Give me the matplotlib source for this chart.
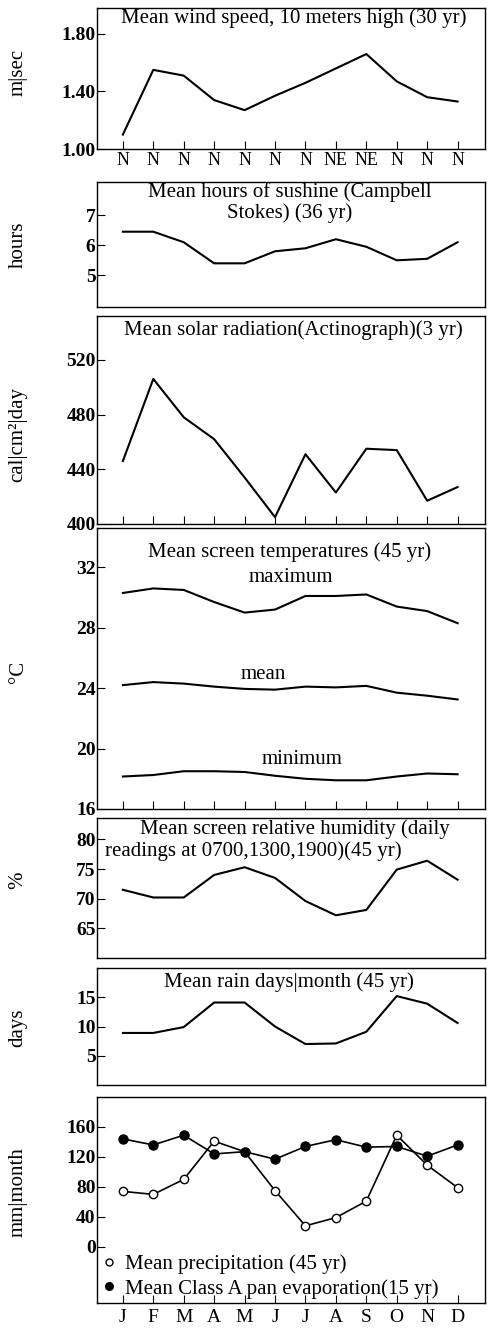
import numpy as np
import matplotlib
matplotlib.use("Agg")
import matplotlib.pyplot as plt
from matplotlib.lines import Line2D

plt.rcParams['font.family'] = ['Liberation Serif', 'DejaVu Serif']

W, H = 488, 1334

months = np.arange(1, 13)
month_labels = ["J", "F", "M", "A", "M", "J", "J", "A", "S", "O", "N", "D"]
wind_dirs = ["N", "N", "N", "N", "N", "N", "N", "NE", "NE", "N", "N", "N"]

wind = [1.10, 1.55, 1.51, 1.34, 1.27, 1.37, 1.46, 1.56, 1.66, 1.47, 1.36, 1.33]
sunshine = [6.45, 6.45, 6.1, 5.4, 5.4, 5.8, 5.9, 6.2, 5.95, 5.5, 5.55, 6.1]
radiation = [446, 506, 478, 462, 434, 405, 451, 423, 455, 454, 417, 427]
t_max = [30.3, 30.6, 30.5, 29.7, 29.0, 29.2, 30.1, 30.1, 30.2, 29.4, 29.1, 28.3]
t_mean = [24.2, 24.4, 24.3, 24.1, 23.95, 23.9, 24.1, 24.05, 24.15, 23.7, 23.5, 23.25]
t_min = [18.15, 18.25, 18.5, 18.5, 18.45, 18.2, 18.0, 17.9, 17.9, 18.15, 18.35, 18.3]
humidity = [71.5, 70.2, 70.2, 74.0, 75.3, 73.5, 69.6, 67.2, 68.1, 74.9, 76.4, 73.2]
rain_days = [8.9, 8.9, 9.9, 14.1, 14.1, 10.0, 7.0, 7.1, 9.1, 15.2, 13.9, 10.6]
precip = [74, 70, 90, 141, 127, 75, 28, 39, 61, 149, 109, 79]
evap = [144, 136, 149, 124, 127, 117, 134, 143, 133, 134, 121, 136]

fig = plt.figure(figsize=(W / 100, H / 100), dpi=100)

TS = 15      # title size
YS = 14      # y tick label size


def make_axes(top, bottom, left=97, right=485):
    ax = fig.add_axes([left / W, 1 - bottom / H, (right - left) / W, (bottom - top) / H])
    ax.set_xlim(0.15, 12.9)
    for s in ax.spines.values():
        s.set_linewidth(1.0)
    ax.tick_params(axis='y', direction='in', length=6, width=0.8, labelsize=YS, pad=1)
    ax.tick_params(axis='x', direction='in', length=6, width=0.8)
    return ax


def ftext(x, y, s, **kw):
    fig.text(x / W, 1 - y / H, s, **kw)


def ylab(y, s):
    ftext(18, y, s, rotation=90, ha='center', va='center', fontsize=15)


lw = 1.5

# wind speed
ax1 = make_axes(8, 149)
ax1.plot(months, wind, color='black', lw=lw)
ax1.set_ylim(1.0, 1.98)
ax1.set_yticks([1.0, 1.4, 1.8])
ax1.set_yticklabels(["1.00", "1.40", "1.80"], fontweight='bold')
ax1.set_xticks(months)
ax1.set_xticklabels(wind_dirs, fontsize=13)
ax1.tick_params(axis='x', pad=2)
ftext(294, 18, "Mean wind speed, 10 meters high (30 yr)", ha='center', va='center', fontsize=TS)
ylab(72, "m|sec")

# sunshine
ax2 = make_axes(182, 307)
ax2.plot(months, sunshine, color='black', lw=lw)
ax2.set_ylim(3.95, 8.1)
ax2.set_yticks([5, 6, 7])
ax2.set_yticklabels(["5", "6", "7"], fontweight='bold')
ax2.set_xticks([])
ftext(290, 192, "Mean hours of sushine (Campbell", ha='center', va='center', fontsize=TS)
ftext(290, 213, "Stokes) (36 yr)", ha='center', va='center', fontsize=TS)
ylab(245, "hours")

# solar radiation
ax3 = make_axes(316, 524)
ax3.plot(months, radiation, color='black', lw=lw)
ax3.set_ylim(400, 552)
ax3.set_yticks([400, 440, 480, 520])
ax3.set_yticklabels(["400", "440", "480", "520"], fontweight='bold')
ax3.set_xticks(months)
ax3.set_xticklabels([])
ftext(293, 330, "Mean solar radiation(Actinograph)(3 yr)", ha='center', va='center', fontsize=TS)
ylab(435, "cal|cm²|day")

# temperatures
ax4 = make_axes(528, 809)
for series in (t_max, t_mean, t_min):
    ax4.plot(months, series, color='black', lw=lw)
ax4.set_ylim(16, 34.6)
ax4.set_yticks([16, 20, 24, 28, 32])
ax4.set_yticklabels(["16", "20", "24", "28", "32"], fontweight='bold')
ax4.set_xticks(months)
ax4.set_xticklabels([])
ftext(290, 552, "Mean screen temperatures (45 yr)", ha='center', va='center', fontsize=TS)
ftext(291, 577, "maximum", ha='center', va='center', fontsize=TS)
ftext(263, 674, "mean", ha='center', va='center', fontsize=TS)
ftext(302, 760, "minimum", ha='center', va='center', fontsize=TS)
ylab(672, "°C")

# humidity
ax5 = make_axes(818, 958)
ax5.plot(months, humidity, color='black', lw=lw)
ax5.set_ylim(60, 83.6)
ax5.set_yticks([65, 70, 75, 80])
ax5.set_yticklabels(["65", "70", "75", "80"], fontweight='bold')
ax5.set_xticks([])
ftext(295, 829, "Mean screen relative humidity (daily", ha='center', va='center', fontsize=TS)
ftext(105, 851, "readings at 0700,1300,1900)(45 yr)", ha='left', va='center', fontsize=TS)
ylab(880, "%")

# rain days
ax6 = make_axes(968, 1085)
ax6.plot(months, rain_days, color='black', lw=lw)
ax6.set_ylim(0, 20)
ax6.set_yticks([5, 10, 15])
ax6.set_yticklabels(["5", "10", "15"], fontweight='bold')
ax6.set_xticks([])
ftext(289, 982, "Mean rain days|month (45 yr)", ha='center', va='center', fontsize=TS)
ylab(1028, "days")

# precipitation and evaporation
ax7 = make_axes(1097, 1303)
ax7.plot(months, precip, color='black', lw=1.2, marker='o', ms=6,
         mfc='white', mec='black', mew=1.0, zorder=3)
ax7.plot(months, evap, color='black', lw=1.2, marker='o', ms=6.5,
         mfc='black', mec='black', zorder=4)
ax7.set_ylim(-75, 200)
ax7.set_yticks([0, 40, 80, 120, 160])
ax7.set_yticklabels(["0", "40", "80", "120", "160"], fontweight='bold')
ax7.set_xticks(months)
ax7.set_xticklabels(month_labels, fontsize=14)
ax7.tick_params(axis='x', pad=4)
handles = [
    Line2D([], [], ls='none', marker='o', ms=5, mfc='white', mec='black'),
    Line2D([], [], ls='none', marker='o', ms=5.5, mfc='black', mec='black'),
]
ax7.legend(handles, ["Mean precipitation (45 yr)", "Mean Class A pan evaporation(15 yr)"],
           loc='lower left', bbox_to_anchor=(-0.01, -0.025), frameon=False,
           handlelength=0.6, handletextpad=0.5, labelspacing=0.22, borderaxespad=0.05,
           prop={'size': TS})
ylab(1192, "mm|month")

fig.savefig("out.png", dpi=100)
